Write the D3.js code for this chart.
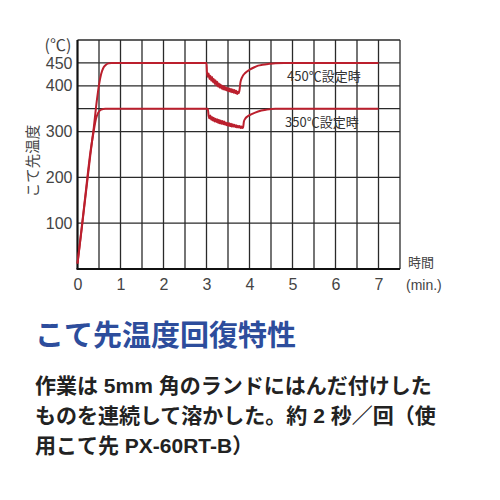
<!DOCTYPE html>
<html><head><meta charset="utf-8">
<script src="https://cdn.jsdelivr.net/npm/d3@7"></script>
<style>
html,body{margin:0;padding:0;background:#fff;}
svg{display:block;}
</style></head>
<body>
<svg id="c" width="500" height="500"></svg>
<script>
// ---- data ----
const time450 = [0,0.1,0.2,0.3,0.38,0.45,0.5,0.55,0.6,0.65,0.72,0.8,3.0,3.01,3.03,3.05,3.07,3.09,3.11,3.13,3.15,3.17,3.19,3.21,3.23,3.25,3.27,3.29,3.31,3.33,3.35,3.37,3.39,3.41,3.43,3.45,3.47,3.49,3.51,3.53,3.55,3.57,3.59,3.61,3.63,3.65,3.67,3.69,3.71,3.73,3.75,3.77,3.79,3.83,3.9,4.0,4.1,4.2,4.3,4.45,4.6,4.8,7.0];
const temp450 = [12,90,170,250,310,368,402,426,439,445,449,450,450,430,420,427,415,422,411,419,408,415,404,412,401,409,398,405,396,403,394,400,392,399,391,397,390,395,388,394,387,393,386,392,385,391,384,389,382,387,384,392,408,419,428,435,440,444,446,448,449.5,450,450];
const time350 = [0,0.1,0.2,0.3,0.38,0.43,0.48,0.55,0.65,3.03,3.05,3.07,3.09,3.11,3.13,3.15,3.17,3.19,3.21,3.23,3.25,3.27,3.29,3.31,3.33,3.35,3.37,3.39,3.41,3.43,3.45,3.47,3.49,3.51,3.53,3.55,3.57,3.59,3.61,3.63,3.65,3.67,3.69,3.71,3.73,3.75,3.77,3.79,3.81,3.83,3.85,3.87,3.9,3.95,4.05,4.2,4.4,4.6,7.0];
const temp350 = [12,92,175,255,303,328,341,348,350,350,334,329,335,326,332,324,330,322,328,321,327,319,326,318,324,317,323,316,322,315,320,314,319,313,318,312,317,311,316,311,315,310,314,309,313,309,312,308,311,308,309,322,328,333,338,344,348,350,350];
const xTicks = [0,1,2,3,4,5,6,7];
const yTicks = [100,200,300,400,450];
const yGrid = [100,200,300,350,400,450,500];
const xGrid = [0.5,1,1.5,2,2.5,3,3.5,4,4.5,5,5.5,6,6.5,7,7.5];
const seriesLabels = ["450℃設定時","350℃設定時"];
const yUnit = "(℃)";
const yTitle = "こて先温度";
const xTitle = ["時間","(min.)"];
const title = "こて先温度回復特性";
const bodyLines = ["作業は 5mm 角のランドにはんだ付けした","ものを連続して溶かした。約 2 秒／回（使","用こて先 PX-60RT-B）"];

// ---- drawing ----
const svg = d3.select("#c");
svg.append("rect").attr("width",500).attr("height",500).attr("fill","#fff");
const x = d3.scaleLinear().domain([0,7.5]).range([77.5,400]);
const y = d3.scaleLinear().domain([0,500]).range([269,40]);
const numFont = "'Liberation Sans', Arial, sans-serif";
const jpFont = "'Noto Sans CJK JP', sans-serif";
const mixFont = "'Liberation Sans', 'Noto Sans CJK JP', sans-serif";

const g = svg.append("g");
// grid
g.selectAll("line.gx").data(xGrid).join("line")
  .attr("x1",d=>x(d)).attr("x2",d=>x(d)).attr("y1",y(500)).attr("y2",y(0))
  .attr("stroke","#2a2a2a").attr("stroke-width",1.3);
g.selectAll("line.gy").data(yGrid).join("line")
  .attr("x1",x(0)).attr("x2",x(7.5)).attr("y1",d=>y(d)).attr("y2",d=>y(d))
  .attr("stroke","#2a2a2a").attr("stroke-width",1.3);
// axes frame
g.append("line").attr("x1",x(0)).attr("x2",x(0)).attr("y1",y(500)).attr("y2",y(0)).attr("stroke","#111").attr("stroke-width",2.2);
g.append("line").attr("x1",x(0)-1).attr("x2",x(7.5)).attr("y1",y(0)).attr("y2",y(0)).attr("stroke","#111").attr("stroke-width",2.2);

// axes labels via d3 axes
const ax = svg.append("g").attr("transform",`translate(0,${y(0)})`)
  .call(d3.axisBottom(x).tickValues(xTicks).tickSize(0).tickPadding(10).tickFormat(d3.format("d")));
ax.select(".domain").remove();
ax.selectAll("text").attr("font-family",numFont).attr("font-size",16).attr("fill","#444");
const ay = svg.append("g").attr("transform",`translate(${x(0)},0)`)
  .call(d3.axisLeft(y).tickValues(yTicks).tickSize(0).tickPadding(5).tickFormat(d3.format("d")));
ay.select(".domain").remove();
ay.selectAll("text").attr("font-family",numFont).attr("font-size",16).attr("fill","#444");

// lines
const line = d3.line().x(d=>x(d[0])).y(d=>y(d[1])).curve(d3.curveMonotoneX);
const s450 = time450.map((t,i)=>[t,temp450[i]]);
const s350 = time350.map((t,i)=>[t,temp350[i]]);
[s450,s350].forEach(s=>{
  svg.append("path").datum(s).attr("d",line).attr("fill","none")
    .attr("stroke","#bb1f2d").attr("stroke-width",2).attr("stroke-linejoin","round");
});

// series labels
svg.append("text").attr("x",287).attr("y",81).text(seriesLabels[0])
  .attr("font-family",jpFont).attr("font-size",13).attr("fill","#333");
svg.append("text").attr("x",285).attr("y",127).text(seriesLabels[1])
  .attr("font-family",jpFont).attr("font-size",13).attr("fill","#333");

// unit and titles
svg.append("text").attr("x",58).attr("y",51).attr("text-anchor","middle").text(yUnit)
  .attr("font-family",jpFont).attr("font-size",16).attr("fill","#444");
svg.append("text").attr("transform","translate(38,161) rotate(-90)").attr("text-anchor","middle").text(yTitle)
  .attr("font-family",jpFont).attr("font-size",14.5).attr("fill","#444");
svg.append("text").attr("x",408).attr("y",267).text(xTitle[0])
  .attr("font-family",jpFont).attr("font-size",13).attr("fill","#444");
svg.append("text").attr("x",406).attr("y",290).text(xTitle[1])
  .attr("font-family",numFont).attr("font-size",14).attr("fill","#444");

// title and body
svg.append("text").attr("x",35).attr("y",346).text(title)
  .attr("font-family",jpFont).attr("font-weight",700).attr("font-size",29).attr("fill","#2d4d9c");
svg.selectAll("text.body").data(bodyLines).join("text")
  .attr("x",35).attr("y",(d,i)=>393+i*30).text(d=>d)
  .attr("font-family",mixFont).attr("font-weight",700).attr("font-size",21).attr("fill","#222");
</script>
</body></html>
